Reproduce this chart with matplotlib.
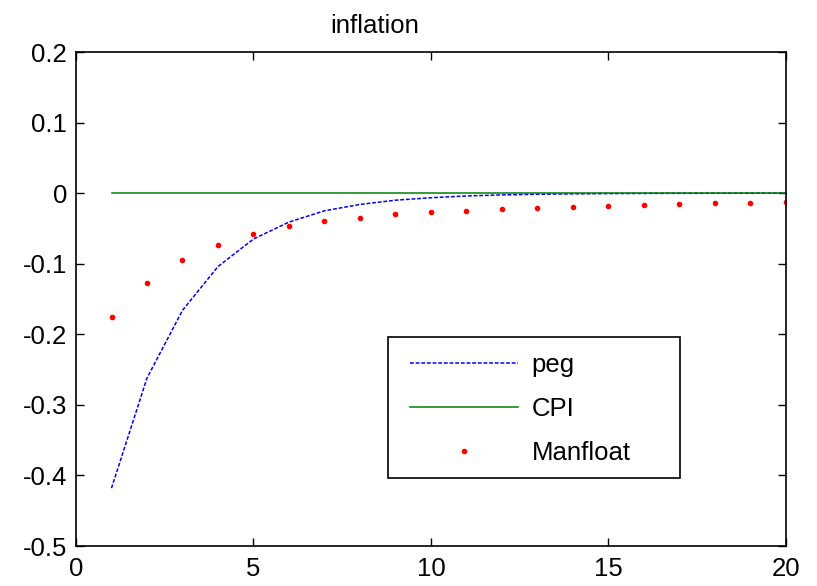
import matplotlib
matplotlib.use("Agg")
import matplotlib.pyplot as plt
from matplotlib.patches import Rectangle

plt.rcParams['font.family'] = ['Liberation Sans', 'DejaVu Sans']

periods = list(range(1, 21))
peg = [-0.418, -0.262, -0.166, -0.104, -0.065, -0.041, -0.025, -0.016, -0.010,
       -0.0065, -0.004, -0.0025, -0.0016, -0.001, -0.0006, -0.0004, -0.00025,
       -0.00015, -0.0001, -0.00006]
cpi = [0.0] * 20
manfloat = [-0.176, -0.128, -0.095, -0.073, -0.058, -0.047, -0.040, -0.035,
            -0.030, -0.027, -0.025, -0.0225, -0.0207, -0.019, -0.0178, -0.0164,
            -0.0155, -0.0145, -0.0136, -0.0127]

fig = plt.figure(figsize=(8.17, 5.86), dpi=100)
ax = fig.add_axes([76/817, 40/586, 710/817, 494/586])

ax.plot(periods, peg, color='blue', linestyle=(0, (2.5, 1.2)), linewidth=1.1, label='peg')
ax.plot(periods, cpi, color='#008000', linewidth=1.1, label='CPI')
ax.plot(periods, manfloat, 'r.', markersize=6, label='Manfloat')

ax.set_xlim(0, 20)
ax.set_ylim(-0.5, 0.2)
ax.set_xticks([0, 5, 10, 15, 20])
ax.set_yticks([-0.5, -0.4, -0.3, -0.2, -0.1, 0, 0.1, 0.2])
ax.set_yticklabels(['-0.5', '-0.4', '-0.3', '-0.2', '-0.1', '0', '0.1', '0.2'])
ax.tick_params(direction='in', top=True, right=True, length=6, width=1,
               labelsize=18.5)
ax.tick_params(axis='x', pad=8)
ax.tick_params(axis='y', pad=6.5)
for s in ax.spines.values():
    s.set_linewidth(1.2)
ax.set_title('inflation', fontsize=18.5, pad=14, x=0.42)

# MATLAB-style legend: wide box with entries set in from the left
box = Rectangle((0.439, 0.138), 0.412, 0.285, transform=ax.transAxes,
                facecolor='white', edgecolor='black', linewidth=1.2, zorder=4.5)
ax.add_patch(box)
leg = ax.legend(loc='upper left', bbox_to_anchor=(0.470, 0.391), frameon=False,
                fontsize=18.5, numpoints=1, handlelength=4.2, handletextpad=0.55,
                labelspacing=0.78, borderpad=0, borderaxespad=0)

fig.savefig('out.png', dpi=100)
